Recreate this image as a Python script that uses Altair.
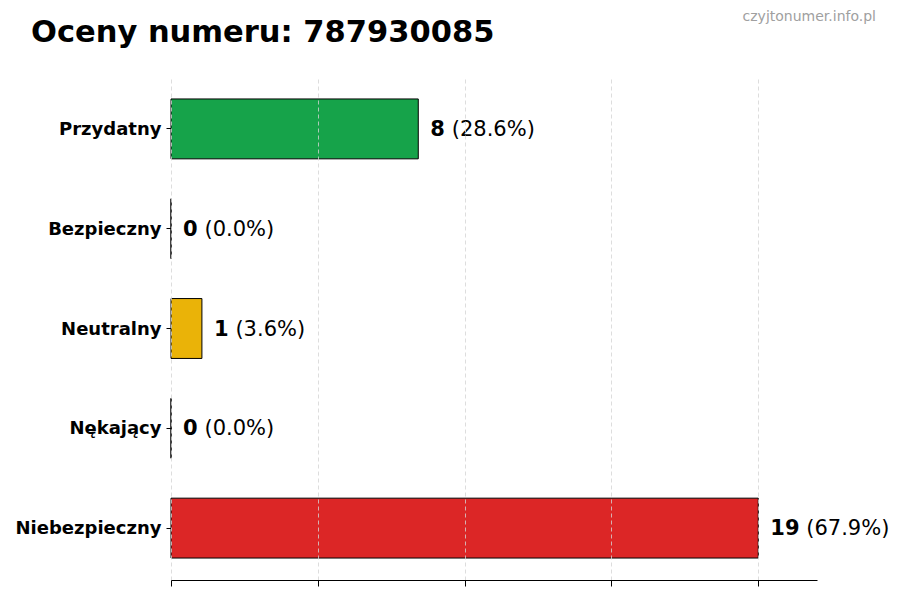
import altair as alt
import pandas as pd

# ---- data ----
categories = ["Przydatny", "Bezpieczny", "Neutralny", "Nękający", "Niebezpieczny"]
counts = [8, 0, 1, 0, 19]
percents = [28.6, 0.0, 3.6, 0.0, 67.9]
colors = ["#16a34a", "#2563eb", "#eab308", "#f97316", "#dc2626"]
x_ticks = [0, 4.75, 9.5, 14.25, 19]
x_max = 20.9
title_text = "Oceny numeru: 787930085"
watermark = "czyjtonumer.info.pl"

df = pd.DataFrame({
    "category": categories,
    "count": counts,
    "pct": [f"({p:.1f}%)" for p in percents],
    "color": colors,
})

FONT = "DejaVu Sans"

y_enc = alt.Y(
    "category:N",
    sort=categories,
    scale=alt.Scale(paddingInner=0.4, paddingOuter=0.22),
    axis=alt.Axis(
        title=None, domain=False, grid=False, tickSize=5, tickColor="black",
        labelFont=FONT, labelFontSize=18, labelFontWeight="bold",
        labelColor="black", labelPadding=5, labelOffset=1,
    ),
)
x_enc = alt.X(
    "count:Q",
    scale=alt.Scale(domain=[0, x_max], nice=False),
    axis=alt.Axis(
        title=None, values=x_ticks, labels=False, tickSize=6, tickColor="black",
        domainColor="black", domainWidth=1, grid=True, gridDash=[4, 3],
        gridColor="#d4d4d4", gridWidth=0.8, zindex=1,
    ),
)

base = alt.Chart(df)

bars = base.mark_bar(stroke="black", strokeWidth=1).encode(
    x=x_enc,
    y=y_enc,
    color=alt.Color("color:N", scale=None, legend=None),
)

count_lbl = base.mark_text(
    align="left", baseline="middle", dx=12, dy=1, font=FONT, fontSize=21,
    fontWeight="bold", color="black",
).encode(x="count:Q", y=alt.Y("category:N", sort=categories), text="count:Q")

pct_one = base.transform_filter("datum.count < 10").mark_text(
    align="left", baseline="middle", dx=33.5, dy=1, font=FONT, fontSize=21,
    color="black",
).encode(x="count:Q", y=alt.Y("category:N", sort=categories), text="pct:N")

pct_two = base.transform_filter("datum.count >= 10").mark_text(
    align="left", baseline="middle", dx=48, dy=1, font=FONT, fontSize=21,
    color="black",
).encode(x="count:Q", y=alt.Y("category:N", sort=categories), text="pct:N")

wm = alt.Chart(pd.DataFrame({"t": [watermark]})).mark_text(
    align="right", baseline="middle", font=FONT, fontSize=14, color="#a0a0a0",
).encode(x=alt.value(705), y=alt.value(-60), text="t:N")

ttl = alt.Chart(pd.DataFrame({"t": [title_text]})).mark_text(
    align="left", baseline="alphabetic", font=FONT, fontSize=30.5,
    fontWeight="bold", color="black",
).encode(x=alt.value(-140), y=alt.value(-35), text="t:N")

chart = alt.layer(bars, count_lbl, pct_one, pct_two, wm, ttl).properties(
    width=646,
    height=503,
    autosize=alt.AutoSizeParams(type="none"),
    padding={"left": 163, "top": 69, "right": 75, "bottom": 12},
).configure(background="white").configure_view(stroke=None)

chart.save("out.html", embed_options={"renderer": "svg", "actions": False})
